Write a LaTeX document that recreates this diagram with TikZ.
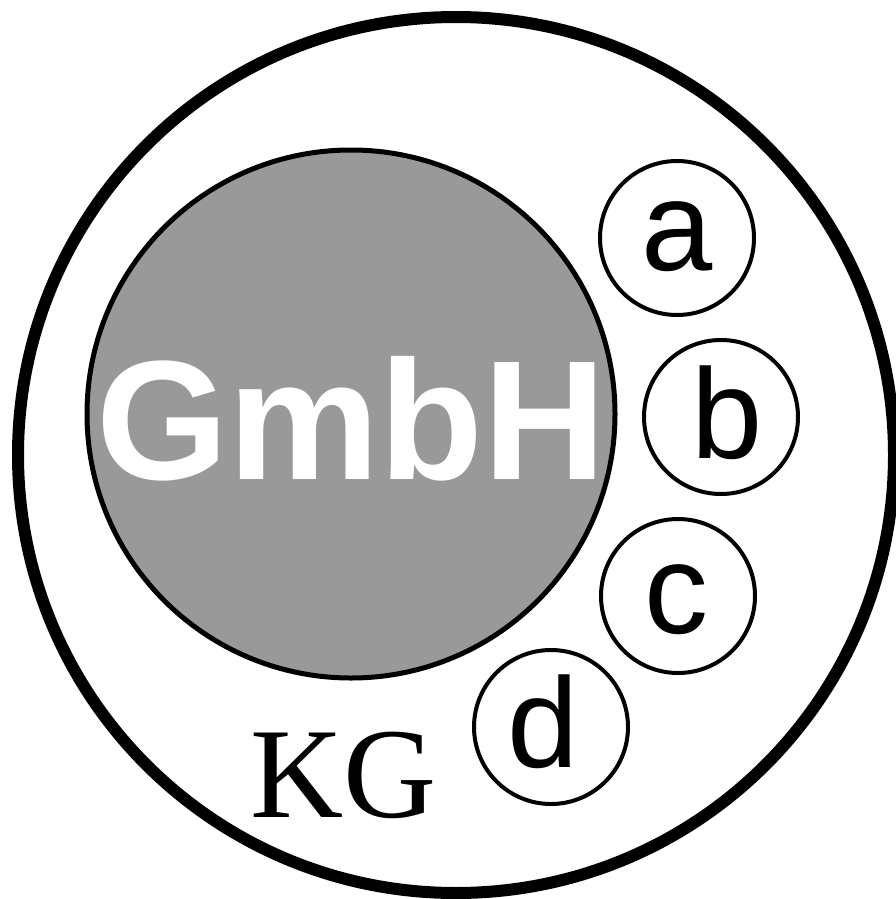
\documentclass[tikz,border=0pt]{standalone}
\usepackage{fontspec}
\setmainfont{Liberation Serif}
\newfontfamily\arialfont{Liberation Sans}
\definecolor{gmbhgray}{HTML}{999999}
\tikzset{
  ring/.style={circle, draw=black, inner sep=0pt},
  outerring/.style={ring, line width=12pt, minimum size=876pt},
  gmbhring/.style={ring, line width=5pt, fill=gmbhgray, minimum size=528pt},
  partner/.style={ring, line width=4pt, minimum size=154pt},
  partnerletter/.style={anchor=base, inner sep=0pt, font=\arialfont\fontsize{128}{128}\selectfont},
}
\begin{document}
\begin{tikzpicture}[x=1pt,y=-1pt]
\useasboundingbox (0,0) rectangle (895,899);
\node[outerring] (kg) at (456,455) {};
\node[gmbhring] (gmbh) at (351,414) {};
\node[partner] (ca) at (677,238) {};
\node[partner] (cb) at (721,417) {};
\node[partner] (cc) at (678,596) {};
\node[partner] (cd) at (551,727) {};
\node[anchor=base, inner sep=0pt, text=white, font=\arialfont\bfseries\fontsize{170}{170}\selectfont] (gmbhtext) at (351,479) {GmbH};
\node[partnerletter] (ta) at (677,270) {a};
\node[partnerletter] (tb) at (727,458) {b};
\node[partnerletter] (tc) at (676,633) {c};
\node[partnerletter] (td) at (543,767) {d};
\node[anchor=base, inner sep=0pt, font=\fontsize{129}{129}\selectfont] (kgtext) at (344,817) {KG};
\end{tikzpicture}
\end{document}
